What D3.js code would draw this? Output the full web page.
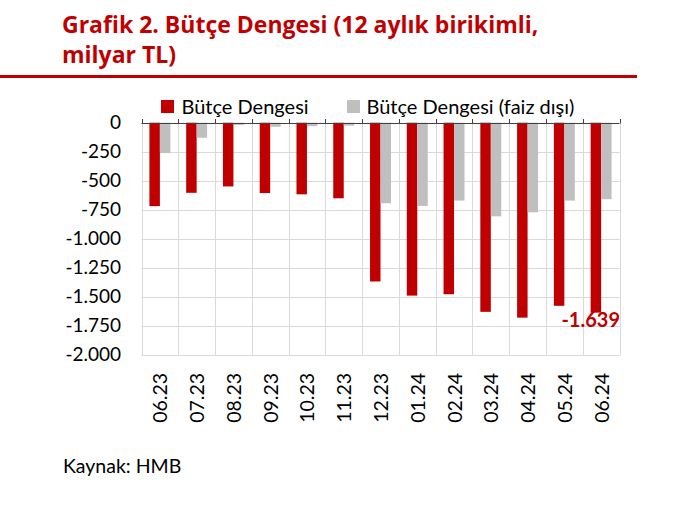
<!DOCTYPE html>
<html>
<head>
<meta charset="utf-8">
<script src="https://cdn.jsdelivr.net/npm/d3@7"></script>
<style>
  body { margin: 0; background: #fff; }
  svg { display: block; font-family: Lato, "Liberation Sans", sans-serif; }
</style>
</head>
<body>
<div id="chart"></div>
<script>
const categories = ['06.23','07.23','08.23','09.23','10.23','11.23','12.23','01.24','02.24','03.24','04.24','05.24','06.24'];
const butceDengesi = [-720, -605, -550, -607, -618, -652, -1370, -1492, -1480, -1632, -1682, -1580, -1639];
const faizDisi = [-262, -130, -20, -35, -30, -25, -695, -718, -672, -808, -773, -672, -660];
const yTicks = [0, -250, -500, -750, -1000, -1250, -1500, -1750, -2000];
const seriesNames = ['Bütçe Dengesi', 'Bütçe Dengesi (faiz dışı)'];

const red = '#C00000';
const grey = '#BFBFBF';

const width = 680, height = 511;
const svg = d3.select('#chart').append('svg')
    .attr('width', width)
    .attr('height', height);

// title
const title = svg.append('g')
    .attr('fill', red)
    .attr('font-family', '"Open Sans", sans-serif')
    .attr('font-size', 23)
    .attr('font-weight', 'bold');
title.append('text').attr('x', 62).attr('y', 33)
    .text('Grafik 2. Bütçe Dengesi (12 aylık birikimli,');
title.append('text').attr('x', 62).attr('y', 63)
    .text('milyar TL)');
svg.append('rect')
    .attr('x', 0).attr('y', 75)
    .attr('width', 637).attr('height', 3)
    .attr('fill', red);

// scales
const xScale = d3.scaleBand()
    .domain(categories)
    .range([141.5, 619.5]);
const yScale = d3.scaleLinear()
    .domain([0, -2000])
    .range([122.7, 354.5]);

const tr = d3.formatLocale({ decimal: ',', thousands: '.', grouping: [3], currency: ['', ''], minus: '-' });
const fmt = tr.format(',');

const g = svg.append('g');

// horizontal grid
g.selectAll('.hgrid')
    .data(yTicks.filter(d => d !== 0))
    .enter().append('line')
    .attr('x1', 141.5).attr('x2', 619.5)
    .attr('y1', d => Math.round(yScale(d)) + 0.5)
    .attr('y2', d => Math.round(yScale(d)) + 0.5)
    .attr('stroke', '#D9D9D9');

// vertical grid
const bounds = categories.map(c => xScale(c)).concat([xScale.range()[1]]);
g.selectAll('.vgrid')
    .data(bounds)
    .enter().append('line')
    .attr('x1', d => Math.round(d) + 0.5).attr('x2', d => Math.round(d) + 0.5)
    .attr('y1', yScale(0)).attr('y2', Math.round(yScale(-2000)) + 0.5)
    .attr('stroke', '#D9D9D9');

// bars
const bw = xScale.bandwidth() * 0.285;
g.selectAll('.bar-red')
    .data(categories)
    .enter().append('rect')
    .attr('x', d => xScale(d) + xScale.bandwidth() / 2 - bw)
    .attr('y', yScale(0))
    .attr('width', bw)
    .attr('height', (d, i) => yScale(butceDengesi[i]) - yScale(0))
    .attr('fill', red);

g.selectAll('.bar-grey')
    .data(categories)
    .enter().append('rect')
    .attr('x', d => xScale(d) + xScale.bandwidth() / 2)
    .attr('y', yScale(0))
    .attr('width', bw)
    .attr('height', (d, i) => yScale(faizDisi[i]) - yScale(0))
    .attr('fill', grey);

// zero axis with ticks
g.append('line')
    .attr('x1', 141.5).attr('x2', 619.5)
    .attr('y1', Math.round(yScale(0)) + 0.5).attr('y2', Math.round(yScale(0)) + 0.5)
    .attr('stroke', '#404040');
g.selectAll('.xtick')
    .data(bounds)
    .enter().append('line')
    .attr('x1', d => Math.round(d) + 0.5).attr('x2', d => Math.round(d) + 0.5)
    .attr('y1', Math.round(yScale(0)) - 4).attr('y2', Math.round(yScale(0)) + 0.5)
    .attr('stroke', '#404040');

// y axis labels
const yAxis = d3.axisLeft(yScale)
    .tickValues(yTicks)
    .tickFormat(fmt)
    .tickSize(0)
    .tickPadding(0);
const yg = svg.append('g')
    .attr('transform', 'translate(121,0)')
    .call(yAxis);
yg.select('.domain').remove();
yg.selectAll('text')
    .attr('font-size', 19)
    .attr('font-family', 'Lato, "Liberation Sans", sans-serif')
    .attr('fill', '#000');

// x axis labels
svg.selectAll('.xlab')
    .data(categories)
    .enter().append('text')
    .attr('transform', d => `translate(${xScale(d) + xScale.bandwidth() / 2 + 7.5},373) rotate(-90)`)
    .attr('text-anchor', 'end')
    .attr('font-size', 19.5)
    .text(d => d);

// data label for last red bar
const last = categories.length - 1;
svg.append('text')
    .attr('x', 620)
    .attr('y', yScale(butceDengesi[last]) + 14)
    .attr('text-anchor', 'end')
    .attr('fill', red)
    .attr('font-size', 20).attr('font-weight', 'bold')
    .text(fmt(butceDengesi[last]));

// legend
const legend = svg.append('g');
const legendX = [161, 347];
const legendTextX = [181.5, 366.5];
[red, grey].forEach((c, i) => {
    legend.append('rect')
        .attr('x', legendX[i]).attr('y', 100)
        .attr('width', 13).attr('height', 13)
        .attr('fill', c);
    legend.append('text')
        .attr('x', legendTextX[i]).attr('y', 114)
        .attr('font-size', 20)
        .text(seriesNames[i]);
});

// source
svg.append('text')
    .attr('x', 63).attr('y', 473)
    .attr('font-size', 19.5)
    .text('Kaynak: HMB');
</script>
</body>
</html>
